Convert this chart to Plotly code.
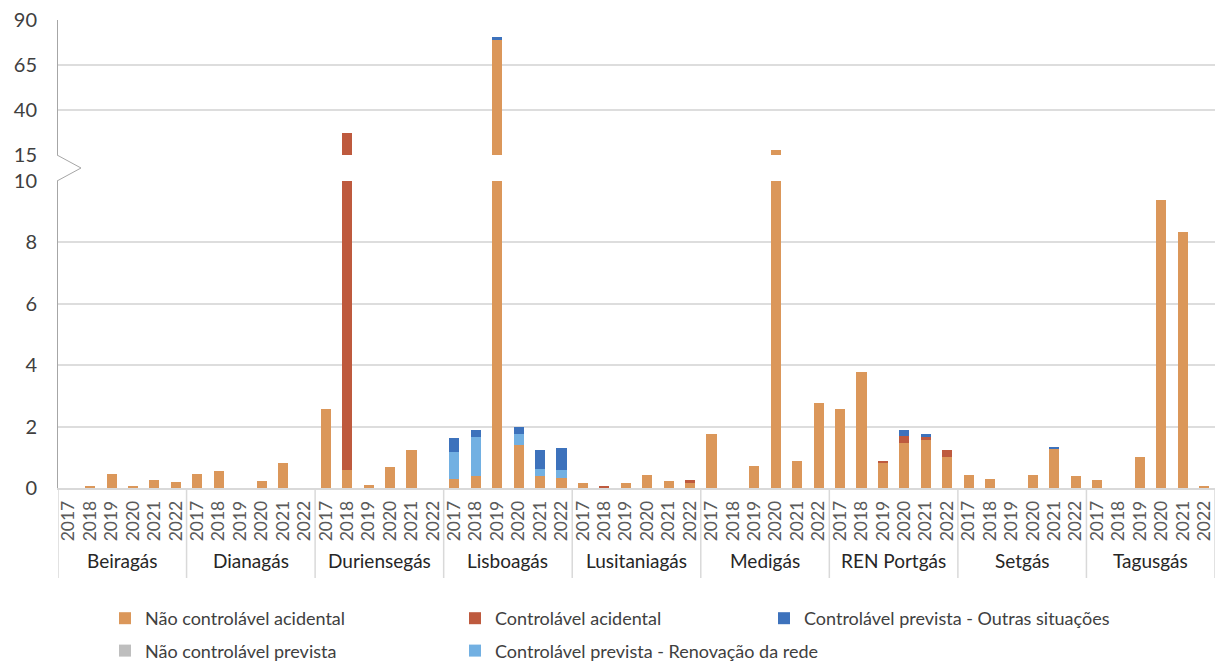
import plotly.graph_objects as go

groups = ["Beiragás", "Dianagás", "Duriensegás", "Lisboagás", "Lusitaniagás",
          "Medigás", "REN Portgás", "Setgás", "Tagusgás"]
years = ["2017", "2018", "2019", "2020", "2021", "2022"]

# values per group, 6 years each
nao_ctrl_acidental = [
    0, 0.04, 0.46, 0.04, 0.27, 0.20,        # Beiragás
    0.46, 0.57, 0, 0.24, 0.82, 0,           # Dianagás
    2.57, 0.60, 0.11, 0.69, 1.24, 0,        # Duriensegás
    0.30, 0.39, 79.4, 1.41, 0.39, 0.33,     # Lisboagás
    0.17, 0, 0.17, 0.43, 0.24, 0.17,        # Lusitaniagás
    1.76, 0, 0.72, 17.8, 0.89, 2.77,        # Medigás
    2.57, 3.78, 0.83, 1.47, 1.57, 1.01,     # REN Portgás
    0.43, 0.30, 0, 0.43, 1.28, 0.40,        # Setgás
    0.27, 0, 1.02, 9.38, 8.34, 0.04,        # Tagusgás
]
ctrl_acidental = [
    0, 0, 0, 0, 0, 0,
    0, 0, 0, 0, 0, 0,
    0, 26.6, 0, 0, 0, 0,
    0, 0, 0, 0, 0, 0,
    0, 0.08, 0, 0, 0, 0.10,
    0, 0, 0, 0, 0, 0,
    0, 0, 0.05, 0.23, 0.09, 0.23,
    0, 0, 0, 0, 0, 0,
    0, 0, 0, 0, 0, 0,
]
nao_ctrl_prevista = [0] * 54
ctrl_prev_renovacao = [
    0, 0, 0, 0, 0, 0,
    0, 0, 0, 0, 0, 0,
    0, 0, 0, 0, 0, 0,
    0.87, 1.27, 0, 0.35, 0.23, 0.26,
    0, 0, 0, 0, 0, 0,
    0, 0, 0, 0, 0, 0,
    0, 0, 0, 0, 0, 0,
    0, 0, 0, 0, 0, 0,
    0, 0, 0, 0, 0, 0,
]
ctrl_prev_outras = [
    0, 0, 0, 0, 0, 0,
    0, 0, 0, 0, 0, 0,
    0, 0, 0, 0, 0, 0,
    0.46, 0.23, 1.1, 0.23, 0.62, 0.71,
    0, 0, 0, 0, 0, 0,
    0, 0, 0, 0, 0, 0,
    0, 0, 0, 0.19, 0.10, 0,
    0, 0, 0, 0, 0.03, 0,
    0, 0, 0, 0, 0, 0,
]

lower_ticks = [0, 2, 4, 6, 8, 10]
upper_ticks = [15, 40, 65, 90]

categories = [f"{g}|{y}" for g in groups for y in years]
year_labels = [y for g in groups for y in years]

series = [
    # name, values, color, legend, rank
    ("Não controlável acidental", nao_ctrl_acidental, "#DB975A", "legend", 1),
    ("Controlável acidental", ctrl_acidental, "#BE5A3E", "legend2", 1),
    ("Não controlável prevista", nao_ctrl_prevista, "#BEBEBE", "legend", 2),
    ("Controlável prevista - Renovação da rede", ctrl_prev_renovacao, "#72B0E2", "legend2", 2),
    ("Controlável prevista - Outras situações", ctrl_prev_outras, "#3D72BC", "legend3", 1),
]

fig = go.Figure()
for i, (name, vals, color, leg, rank) in enumerate(series):
    fig.add_trace(go.Bar(x=categories, y=vals, name=name, marker_color=color,
                         xaxis="x", yaxis="y", legend=leg, legendrank=rank,
                         legendgroup=name, marker_line_width=0))
    fig.add_trace(go.Bar(x=categories, y=vals, name=name, marker_color=color,
                         xaxis="x", yaxis="y2", showlegend=False,
                         legendgroup=name, marker_line_width=0))

# layout geometry (pixels)
W, H = 1215, 667
L, T, B = 58, 20, 179
plot_h = H - T - B  # 468
base_px = T + plot_h
gap_top_px, gap_bot_px = 155, 181
low_top = (base_px - gap_bot_px) / plot_h
up_bot = (base_px - gap_top_px) / plot_h

grid_col = "#DDDDDD"
axis_col = "#A6A6A6"
font_fam = "Lato, 'Open Sans', sans-serif"

fig.update_layout(
    width=W, height=H,
    margin=dict(l=L, r=0, t=T, b=B, pad=0, autoexpand=False),
    barmode="stack", bargap=0.53,
    plot_bgcolor="white", paper_bgcolor="white",
    font=dict(family=font_fam, color="#404040"),
    xaxis=dict(type="category", categoryorder="array", categoryarray=categories,
               tickvals=categories, ticktext=year_labels, tickangle=-90,
               range=[-0.5, len(categories) - 0.5],
               tickfont=dict(size=17.5, color="#595959"),
               showline=True, linecolor="#D9D9D9", linewidth=1.5,
               ticks="", showgrid=False, anchor="y", ticklabelstandoff=4,
               automargin=False),
    yaxis=dict(domain=[0, low_top], range=[0, 10], tickvals=lower_ticks,
               showgrid=True, gridcolor=grid_col, gridwidth=1.5,
               zeroline=False, showline=True, linecolor=axis_col, linewidth=1,
               tickfont=dict(size=20, color="#404040"), ticks="",
               ticklabelstandoff=16, anchor="x", automargin=False),
    yaxis2=dict(domain=[up_bot, 1], range=[15, 90], tickvals=upper_ticks,
                showgrid=True, gridcolor=grid_col, gridwidth=1.5,
                zeroline=False, showline=True, linecolor=axis_col, linewidth=1,
                tickfont=dict(size=20, color="#404040"), ticks="",
                ticklabelstandoff=16, anchor="x", automargin=False),
    showlegend=True,
)

leg_top = -(600 - base_px) / plot_h
leg_common = dict(orientation="v", yanchor="top", y=leg_top, xanchor="left",
                  traceorder="grouped", tracegroupgap=6,
                  font=dict(size=18, color="#404040", family=font_fam),
                  bgcolor="rgba(0,0,0,0)")
fig.update_layout(
    legend=dict(x=(105 - L) / (W - L), **leg_common),
    legend2=dict(x=(455 - L) / (W - L), **leg_common),
    legend3=dict(x=(764 - L) / (W - L), **leg_common),
)

# break marker on the y axis
x0 = -1 / (W - L)
x1 = 23 / (W - L)
ymid = (low_top + up_bot) / 2
fig.add_shape(type="path", xref="paper", yref="paper",
              path=f"M {x0},{up_bot} L {x1},{ymid} L {x0},{low_top}",
              line=dict(color=axis_col, width=1))

# group dividers and labels
n_per = len(years)
div_bottom = -(578 - base_px) / plot_h
for k in range(len(groups) + 1):
    fig.add_shape(type="line", xref="x", yref="paper",
                  x0=k * n_per - 0.5, x1=k * n_per - 0.5, y0=0, y1=div_bottom,
                  line=dict(color="#D9D9D9", width=1.5))
for k, g in enumerate(groups):
    fig.add_annotation(x=k * n_per + (n_per - 1) / 2, y=-(560 - base_px) / plot_h,
                       xref="x", yref="paper", text=g, showarrow=False,
                       font=dict(size=19, color="#262626", family=font_fam),
                       yanchor="middle")

fig.write_html("out.html")
